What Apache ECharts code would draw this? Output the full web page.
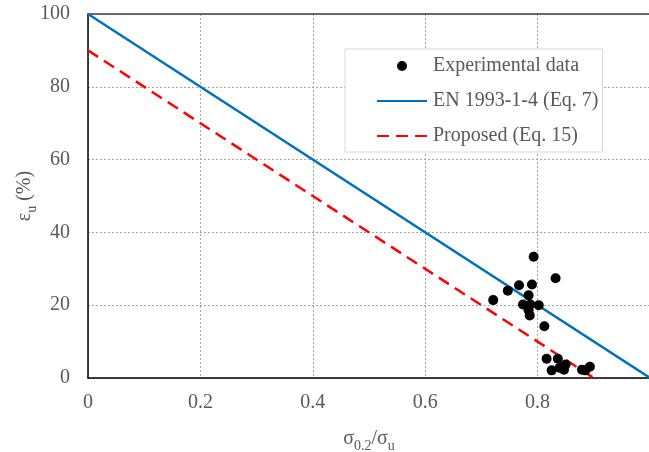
<!DOCTYPE html>
<html>
<head>
<meta charset="utf-8">
<script src="https://cdn.jsdelivr.net/npm/echarts@6/dist/echarts.min.js"></script>
<style>
  html, body { margin: 0; padding: 0; background: #fff; }
  #chart { width: 649px; height: 452px; }
</style>
</head>
<body>
<div id="chart"></div>
<script>
(function() {
  // --- data ---
  var expX = [0.721, 0.747, 0.767, 0.790, 0.793, 0.832, 0.784, 0.774, 0.787, 0.802, 0.784,
              0.786, 0.812, 0.816, 0.836, 0.825, 0.839, 0.850, 0.847, 0.879, 0.885, 0.893];
  var expY = [21.4, 24.0, 25.5, 25.7, 33.3, 27.4, 22.7, 20.2, 20.2, 20.0, 18.6,
              17.2, 14.2, 5.3, 5.3, 2.1, 2.8, 3.7, 2.3, 2.3, 2.1, 3.1];
  var enX = [0, 1];
  var enY = [100, 0];
  var propX = [0, 0.9];
  var propY = [90, 0];
  var seriesNames = ['Experimental data', 'EN 1993-1-4 (Eq. 7)', 'Proposed (Eq. 15)'];
  var xTicks = [0, 0.2, 0.4, 0.6, 0.8];

  var ink = '#595959';
  var font = 'Liberation Serif';

  function pairs(xs, ys) {
    return xs.map(function(x, i) { return [x, ys[i]]; });
  }

  var chart = echarts.init(document.getElementById('chart'), null, { renderer: 'canvas' });
  chart.setOption({
    animation: false,
    textStyle: { fontFamily: font },
    grid: { left: 88, right: -1, top: 14, bottom: 74, containLabel: false, outerBoundsMode: 'none' },
    legend: {
      orient: 'vertical',
      left: 345,
      top: 49,
      padding: [7, 4, 6, 31],
      itemWidth: 50,
      itemHeight: 10,
      itemGap: 15,
      backgroundColor: '#fff',
      borderColor: '#d9d9d9',
      borderWidth: 1,
      textStyle: { fontFamily: font, fontSize: 20, color: ink, padding: [0, 0, 0, 1] },
      data: [
        { name: seriesNames[0], icon: 'circle' },
        { name: seriesNames[1], itemStyle: { opacity: 0 } },
        { name: seriesNames[2], itemStyle: { opacity: 0 } }
      ]
    },
    xAxis: [{
      type: 'value',
      min: 0,
      max: 1,
      interval: 0.2,
      axisLine: { lineStyle: { color: '#000', width: 1.5 } },
      axisTick: { show: false },
      axisLabel: {
        color: ink, fontSize: 20, fontFamily: font, margin: 15,
        formatter: function(v) { return xTicks.indexOf(v) >= 0 ? String(v) : ''; }
      },
      splitLine: { lineStyle: { color: '#a6a6a6', type: [2, 2], width: 1 } },
      name: '{a|σ}{s|0.2}{a|/σ}{s|u}',
      nameLocation: 'middle',
      nameGap: 47,
      nameMoveOverlap: false,
      nameTextStyle: {
        rich: {
          a: { fontSize: 20, fontFamily: font, color: ink, lineHeight: 28, verticalAlign: 'middle' },
          s: { fontSize: 14, fontFamily: font, color: ink, lineHeight: 28, verticalAlign: 'bottom' }
        }
      }
    }, {
      type: 'value',
      position: 'top',
      min: 0,
      max: 1,
      axisLine: { show: true, lineStyle: { color: '#404040', width: 1.5 } },
      axisTick: { show: false },
      axisLabel: { show: false },
      splitLine: { show: false }
    }],
    yAxis: {
      type: 'value',
      min: 0,
      max: 100,
      interval: 20,
      axisLine: { show: true, lineStyle: { color: '#000', width: 1.5 } },
      axisTick: { show: false },
      axisLabel: { color: ink, fontSize: 20, fontFamily: font, margin: 18 },
      splitLine: { lineStyle: { color: '#a6a6a6', type: [2, 2], width: 1 } },
      name: '{e|ε}{s|u}{e| (%)}',
      nameLocation: 'middle',
      nameGap: 49,
      nameMoveOverlap: false,
      nameTextStyle: {
        rich: {
          e: { fontSize: 20, fontFamily: font, color: ink, lineHeight: 28, verticalAlign: 'middle' },
          s: { fontSize: 14, fontFamily: font, color: ink, lineHeight: 28, verticalAlign: 'bottom' }
        }
      }
    },
    series: [{
      name: seriesNames[0],
      type: 'scatter',
      symbol: 'circle',
      symbolSize: 10,
      itemStyle: { color: '#000', opacity: 1 },
      data: pairs(expX, expY),
      z: 4
    }, {
      name: seriesNames[1],
      type: 'line',
      symbol: 'none',
      lineStyle: { color: '#0070c0', width: 2.5 },
      itemStyle: { color: '#0070c0' },
      data: pairs(enX, enY),
      z: 3
    }, {
      name: seriesNames[2],
      type: 'line',
      symbol: 'none',
      clip: false,
      lineStyle: { color: '#ff0000', width: 2.5, type: [12, 7] },
      itemStyle: { color: '#ff0000' },
      data: pairs(propX, propY),
      z: 3
    }]
  });
  window.addEventListener('resize', function() { chart.resize(); });
})();
</script>
</body>
</html>
